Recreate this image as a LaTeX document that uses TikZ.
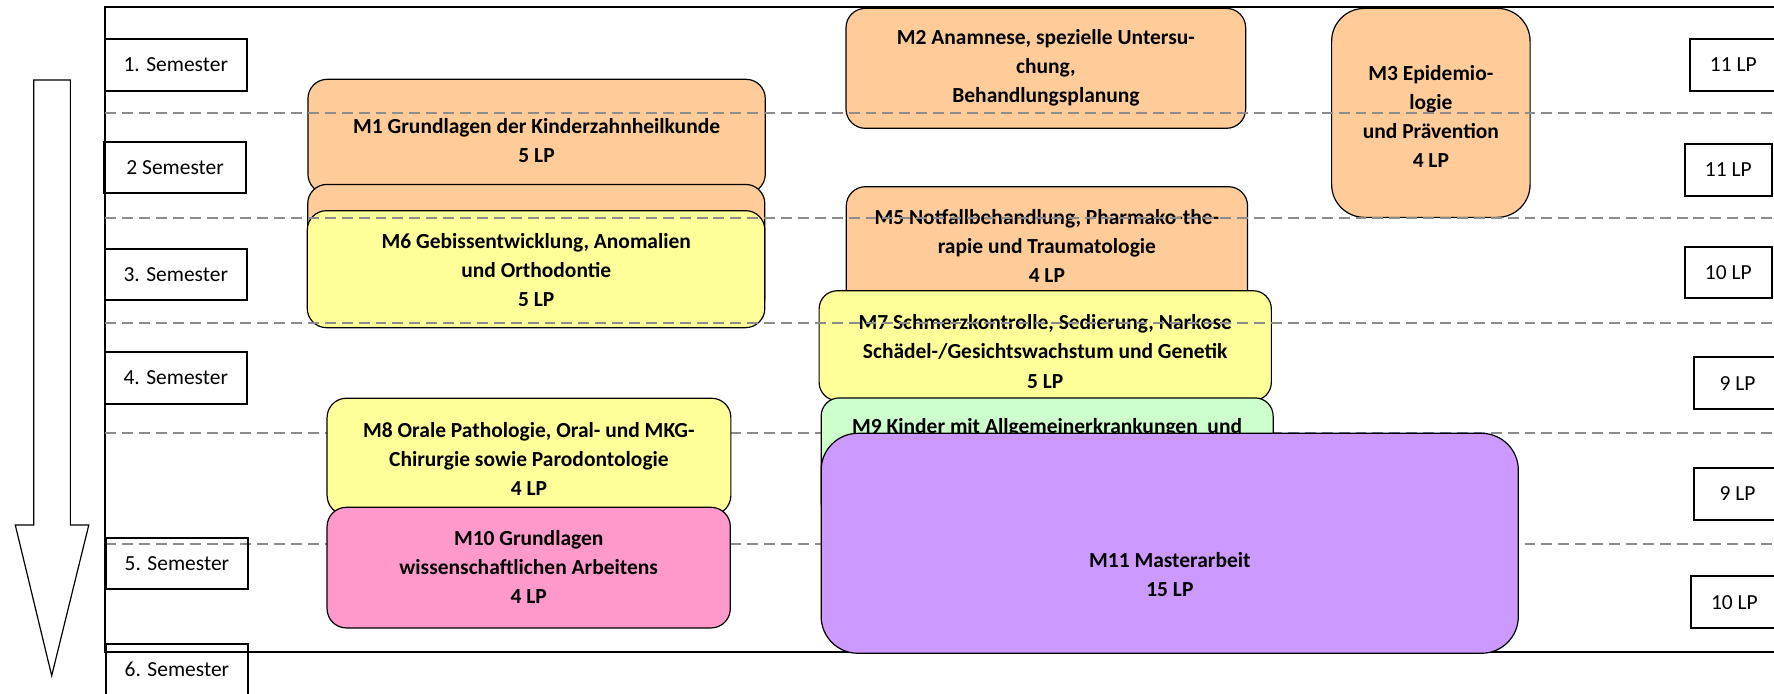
\documentclass[tikz,border=0pt]{standalone}
\usepackage{fontspec}
\setmainfont{Carlito}
\definecolor{peach}{HTML}{FFCC99}
\definecolor{lemon}{HTML}{FFFF99}
\definecolor{mint}{HTML}{CCFFCC}
\definecolor{rose}{HTML}{FF99CC}
\definecolor{lilac}{HTML}{CC99FF}

\begin{document}
\begin{tikzpicture}[x=0.02cm, y=-0.02cm,
  module/.style={draw=black, line width=0.6pt, rounded corners=0.34cm},
  modtext/.style={font=\fontsize{10.8}{14.6}\selectfont\bfseries, align=center, inner sep=0pt},
  sembox/.style={draw=black, line width=1pt, minimum width=2.52cm,
    minimum height=0.91cm, inner sep=0pt, font=\fontsize{10.8}{12}\selectfont},
  lpbox/.style={sembox, minimum width=1.54cm},
  semline/.style={gray!90, dash pattern=on 5.5pt off 3pt, line width=1pt}]
  \useasboundingbox (0,0) rectangle (1568,613);

  % frame and time arrow
  \draw[line width=1pt] (93,5.9) rectangle (1590,576.5);
  \draw[fill=white, line width=0.6pt] (29.8,70.7) -- (62.2,70.7) -- (62.2,464)
  -- (78.5,464) -- (45.7,597.2) -- (13.5,464) -- (29.8,464) -- cycle;

  % lower separators lie behind the modules
  \draw[semline] (93,383) -- (1590,383);
  \draw[semline] (93,481.1) -- (1590,481.1);

  % semesters
  \node[sembox] (s1) at (155.4,57.5) {1. Semester};
  \node[sembox] (s2) at (154.8,147.9) {2 Semester};
  \node[sembox] (s3) at (155.4,242.7) {3. Semester};
  \node[sembox] (s4) at (155.4,334.2) {4. Semester};
  \node[sembox] (s5) at (156.4,498) {5. Semester};
  \node[sembox] (s6) at (156.4,591.8) {6. Semester};

  % credit points per semester
  \node[lpbox] (lp1) at (1532,57.5) {11 LP};
  \node[lpbox] (lp2) at (1527.6,150.2) {11 LP};
  \node[lpbox] (lp3) at (1527.6,240.9) {10 LP};
  \node[lpbox] (lp4) at (1535.7,338.6) {9 LP};
  \node[lpbox] (lp5) at (1535.7,436.6) {9 LP};
  \node[lpbox] (lp6) at (1533,532.2) {10 LP};

  % left column
  \draw[module, fill=peach] (272.2,70.1) rectangle (676.4,171);
  \node[modtext] (m1) at (474.3,124.2) {M1 Grundlagen der Kinderzahnheilkunde\\5 LP};
  \draw[module, fill=peach] (272,163) rectangle (676,280);
  \draw[module, fill=lemon] (271.6,186.2) rectangle (676,289.6);
  \node[modtext] (m6) at (474,239) {M6 Gebissentwicklung, Anomalien\\und Orthodontie\\5 LP};
  \draw[module, fill=lemon] (289.1,352) rectangle (646,455);
  \node[modtext] (m8) at (467.5,405.4) {M8 Orale Pathologie, Oral- und MKG-\\Chirurgie sowie Parodontologie\\4 LP};
  \draw[module, fill=rose] (289.1,448.4) rectangle (645.5,555);
  \node[modtext] (m10) at (467.3,501.4) {M10 Grundlagen\\wissenschaftlichen Arbeitens\\4 LP};

  % middle column
  \draw[module, fill=peach] (747.8,7.4) rectangle (1101,113.4);
  \node[modtext] (m2) at (924.5,60) {M2 Anamnese, spezielle Untersu-\\chung,\\Behandlungsplanung};
  \draw[module, fill=peach] (748,165) rectangle (1102.7,300);
  \node[modtext] (m5) at (925.3,217.8) {M5 Notfallbehandlung, Pharmako-the-\\rapie und Traumatologie\\4 LP};
  \draw[module, fill=lemon, rounded corners=0.32cm] (724,257) rectangle (1123.7,354);
  \node[modtext] (m7) at (923.8,310.7) {M7 Schmerzkontrolle, Sedierung, Narkose\\Schädel-/Gesichtswachstum und Genetik\\5 LP};
  \draw[module, fill=mint, rounded corners=0.32cm] (725.8,351.7) rectangle (1125.3,460);
  \node[modtext] (m9) at (925.5,377.7) {M9 Kinder mit Allgemeinerkrankungen\ \ und};
  \draw[module, fill=lilac, rounded corners=0.65cm] (725.8,383) rectangle (1342,577.4);
  \node[modtext] (m11) at (1034,507.6) {M11 Masterarbeit\\15 LP};

  % right column
  \draw[module, fill=peach, rounded corners=0.58cm] (1177,7.4) rectangle (1352.4,192.1);
  \node[modtext] (m3) at (1264.7,103.1) {M3 Epidemio-\\logie\\und Prävention\\4 LP};

  % upper separators lie on top
  \draw[semline] (93,100.2) -- (1590,100.2);
  \draw[semline] (93,192.7) -- (1590,192.7);
  \draw[semline] (93,285.2) -- (1590,285.2);
\end{tikzpicture}
\end{document}
